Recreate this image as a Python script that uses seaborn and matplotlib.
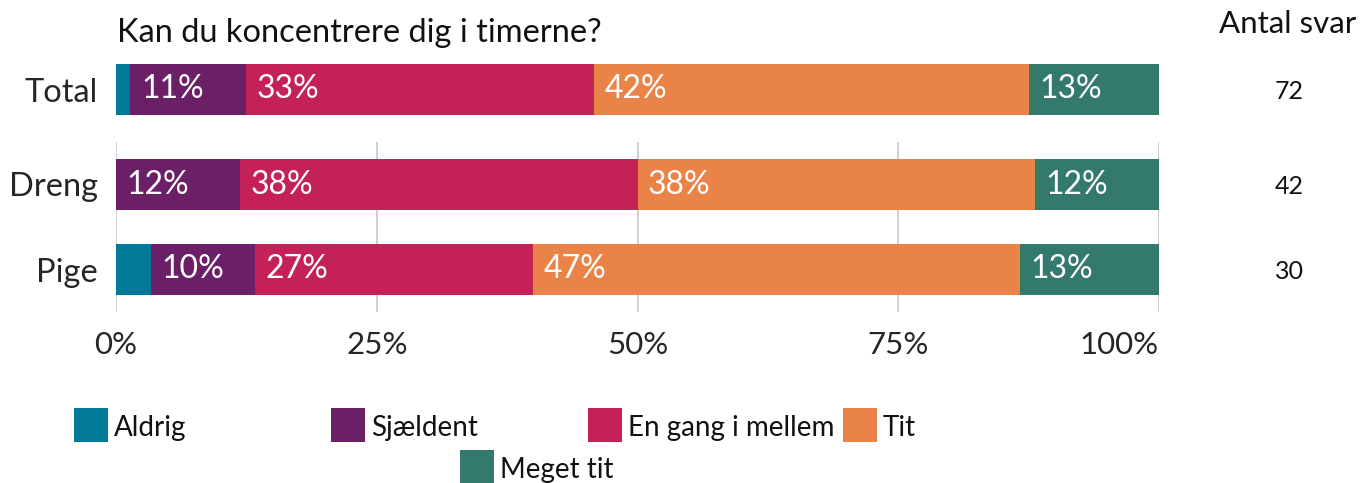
import math

import matplotlib
matplotlib.use("Agg")
import matplotlib.pyplot as plt
from matplotlib.patches import Rectangle
import pandas as pd
import seaborn as sns

# --- data -----------------------------------------------------------------
title = "Kan du koncentrere dig i timerne?"
groups = ["Total", "Dreng", "Pige"]
responses = ["Aldrig", "Sjældent", "En gang i mellem", "Tit", "Meget tit"]

aldrig = [1.39, 0.00, 3.33]
sjaeldent = [11.11, 11.90, 10.00]
en_gang = [33.33, 38.10, 26.67]
tit = [41.67, 38.10, 46.67]
meget_tit = [12.50, 11.90, 13.33]
antal_svar = [72, 42, 30]

x_ticks = [0, 25, 50, 75, 100]
x_ticklabels = ["0%", "25%", "50%", "75%", "100%"]

palette = {
    "Aldrig": "#017A99",
    "Sjældent": "#6A1F67",
    "En gang i mellem": "#C42157",
    "Tit": "#E98347",
    "Meget tit": "#33796D",
}

# --- style ----------------------------------------------------------------
sns.set_style("white")
plt.rcParams["font.family"] = ["Lato", "DejaVu Sans"]
plt.rcParams["text.color"] = "#111111"

df = pd.DataFrame({
    "gruppe": groups,
    "Aldrig": aldrig,
    "Sjældent": sjaeldent,
    "En gang i mellem": en_gang,
    "Tit": tit,
    "Meget tit": meget_tit,
    "n": antal_svar,
})
cum = df[responses].cumsum(axis=1)
starts = cum - df[responses].values

W, H = 1362, 483
fig = plt.figure(figsize=(W / 100, H / 100), dpi=100)


def px_axes(left, top, right, bottom):
    return fig.add_axes([left / W, 1 - bottom / H, (right - left) / W, (bottom - top) / H])


ax_top = px_axes(116, 47, 1159, 132)
ax_bot = px_axes(116, 142, 1159, 312)

bar_width = 0.61


def draw_stack(ax, rows, label_size):
    sub = df.iloc[rows].reset_index(drop=True)
    sub_cum = cum.iloc[rows].reset_index(drop=True)
    sub_start = starts.iloc[rows].reset_index(drop=True)
    order = list(sub["gruppe"])
    # draw cumulative totals from the right so each segment sits on top
    for resp in reversed(responses):
        sns.barplot(x=sub_cum[resp], y=sub["gruppe"], order=order, orient="h",
                    color=palette[resp], saturation=1, width=bar_width,
                    errorbar=None, linewidth=0, ax=ax)
    for i in range(len(sub)):
        for resp in responses:
            v = sub.loc[i, resp]
            if v >= 5:
                ax.text(sub_start.loc[i, resp] + 1.0, i, f"{math.floor(v + 0.5)}%",
                        color="white", fontsize=label_size, va="center", ha="left")
        ax.text(112.5, i, str(sub.loc[i, "n"]), fontsize=18, ha="center",
                va="center_baseline", clip_on=False)
    ax.set_xlim(0, 100)
    ax.set_xlabel("")
    ax.set_ylabel("")
    for s in ax.spines.values():
        s.set_visible(False)


draw_stack(ax_top, [0], 23)
draw_stack(ax_bot, [1, 2], 23)

# top panel: no x axis
ax_top.set_xticks([])
ax_top.tick_params(axis="y", length=0, pad=13, labelsize=23.5)

# bottom panel: percentage axis with vertical grid
ax_bot.set_xticks(x_ticks)
ax_bot.set_xticklabels(x_ticklabels)
ax_bot.get_xticklabels()[-1].set_horizontalalignment("right")
ax_bot.tick_params(axis="x", length=0, pad=14, labelsize=22.5)
ax_bot.tick_params(axis="y", length=0, pad=13, labelsize=23.5)
ax_bot.grid(axis="x", color="#CCCCCC", linewidth=1.3)
ax_bot.grid(axis="y", visible=False)
ax_bot.set_axisbelow(True)

# titles
fig.text(117 / W, 1 - 33 / H, title, fontsize=23.5, ha="left", va="center")
fig.text(1288 / W, 1 - 24 / H, "Antal svar", fontsize=22.5, ha="center", va="center")

# legend, laid out in two rows
legend_rows = [
    [("Aldrig", 74), ("Sjældent", 331), ("En gang i mellem", 588), ("Tit", 843)],
    [("Meget tit", 460)],
]
row_tops = [408, 450]
box = 34
for row, top in zip(legend_rows, row_tops):
    for name, left in row:
        fig.add_artist(Rectangle((left / W, 1 - (top + box) / H), box / W, box / H,
                                 transform=fig.transFigure, facecolor=palette[name],
                                 edgecolor="none"))
        fig.text((left + box + 6) / W, 1 - (top + box / 2 + 3) / H, name,
                 fontsize=20, ha="left", va="center")

fig.savefig("out.png", dpi=100)
